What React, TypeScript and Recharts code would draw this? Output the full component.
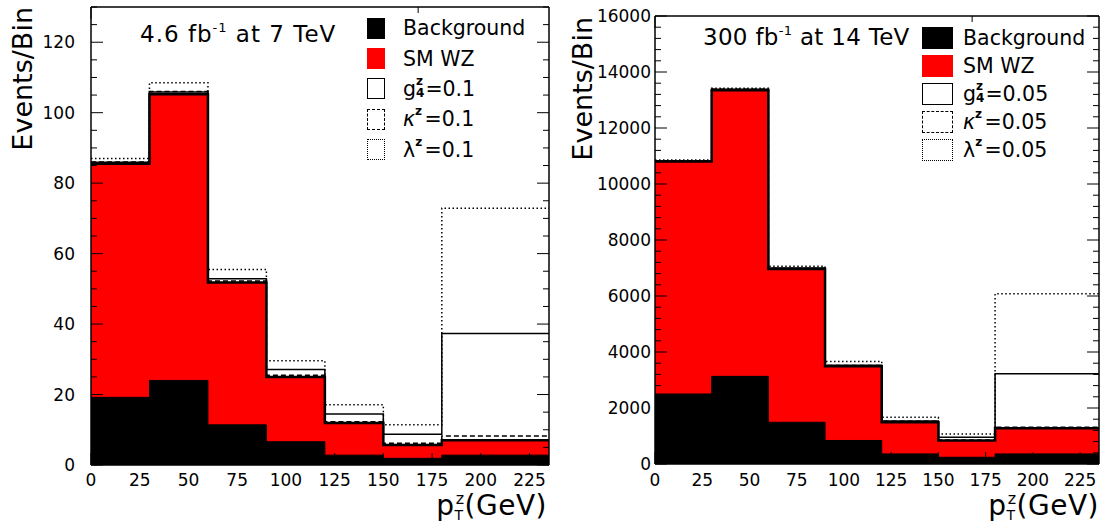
import React from "react";
import { ComposedChart, Area, Line, XAxis, YAxis } from "recharts";

// bin edges in pT^Z (GeV); the last bin runs to the frame edge
const binEdges = [0, 30, 60, 90, 120, 150, 180, 235];

// 4.6 fb-1 at 7 TeV (stacked totals per bin)
const bg7 = [19.2, 24.0, 11.4, 6.6, 2.8, 1.9, 2.8];
const smwz7 = [85.5, 105.2, 51.8, 25.0, 11.9, 5.7, 7.0];
const g4z7 = [85.9, 105.9, 52.9, 27.1, 14.5, 8.7, 37.3];
const kappaz7 = [86.0, 106.0, 52.2, 25.5, 12.3, 6.2, 8.2];
const lambdaz7 = [87.0, 108.5, 55.5, 29.6, 17.1, 11.4, 72.9];

// 300 fb-1 at 14 TeV
const bg14 = [2500, 3130, 1490, 840, 360, 240, 360];
const smwz14 = [10800, 13350, 6960, 3490, 1490, 835, 1275];
const g4z14 = [10820, 13380, 7000, 3530, 1540, 955, 3220];
const kappaz14 = [10830, 13380, 6990, 3520, 1530, 860, 1310];
const lambdaz14 = [10860, 13420, 7060, 3660, 1670, 1070, 6080];

// tick labels
const xLabels = [0, 25, 50, 75, 100, 125, 150, 175, 200, 225];
const yLabels7 = [0, 20, 40, 60, 80, 100, 120];
const yLabels14 = [0, 2000, 4000, 6000, 8000, 10000, 12000, 14000, 16000];

const FONT = "'DejaVu Sans', sans-serif";

const range = (from: number, to: number, step: number) => {
  const out: number[] = [];
  for (let v = from; v <= to + 1e-9; v += step) out.push(v);
  return out;
};

const buildRows = (bg: number[], sm: number[], g4: number[], ka: number[], la: number[]) =>
  binEdges.map((x, i) => {
    const k = Math.min(i, bg.length - 1);
    return { x, bg: bg[k], sm: sm[k], g4: g4[k], kappa: ka[k], lambda: la[k] };
  });

// ROOT style ticks: drawn inside the frame, labels outside
const makeTick =
  (side: "bottom" | "top" | "left" | "right", labels: number[], labelOffset: number) =>
  (p: any) => {
    const { x, y } = p;
    const v = p.payload.value as number;
    const isMajor = labels.includes(v);
    const len = isMajor ? 12 : 6;
    let line;
    let label = null;
    if (side === "bottom") {
      line = <line x1={x} y1={y} x2={x} y2={y - len} stroke="#000" strokeWidth={1} />;
      if (isMajor)
        label = (
          <text x={x} y={y + labelOffset} textAnchor="middle" fontSize={17} fontFamily={FONT} fill="#000">
            {v}
          </text>
        );
    } else if (side === "top") {
      line = <line x1={x} y1={y} x2={x} y2={y + len} stroke="#000" strokeWidth={1} />;
    } else if (side === "left") {
      line = <line x1={x} y1={y} x2={x + len} y2={y} stroke="#000" strokeWidth={1} />;
      if (isMajor)
        label = (
          <text x={x - labelOffset} y={y + 6} textAnchor="end" fontSize={17} fontFamily={FONT} fill="#000">
            {v}
          </text>
        );
    } else {
      line = <line x1={x} y1={y} x2={x - len} y2={y} stroke="#000" strokeWidth={1} />;
    }
    return (
      <g>
        {line}
        {label}
      </g>
    );
  };

const Swatch = ({ kind, w, h }: { kind: string; w: number; h: number }) => {
  const common = { width: w, height: h, display: "inline-block", boxSizing: "border-box" as const, flex: "none" };
  if (kind === "bg") return <span style={{ ...common, background: "#000" }} />;
  if (kind === "sm") return <span style={{ ...common, background: "#ff0000" }} />;
  if (kind === "g4") return <span style={{ ...common, border: "1.5px solid #000", background: "#fff" }} />;
  if (kind === "kappa") return <span style={{ ...common, border: "1.5px dashed #000", background: "#fff" }} />;
  return <span style={{ ...common, border: "1.5px dotted #000", background: "#fff" }} />;
};

// symbol with superscript z and (optionally) subscript stacked under it
const Coupling = ({ sym, sub, val, italic }: { sym: string; sub?: string; val: string; italic?: boolean }) => (
  <span style={{ display: "inline-flex", alignItems: "center", lineHeight: "24px" }}>
    <span style={{ fontStyle: italic ? "italic" : "normal" }}>{sym}</span>
    <span
      style={{
        display: "inline-flex",
        flexDirection: "column",
        fontSize: 12,
        lineHeight: "12px",
        marginRight: 1,
        fontWeight: 600,
        position: "relative",
        top: -2,
      }}
    >
      <span>z</span>
      <span style={{ visibility: sub ? "visible" : "hidden" }}>{sub || "0"}</span>
    </span>
    <span>={val}</span>
  </span>
);

const LegendBox = ({
  val, sw, sh, gap, rowH, left, top,
}: { val: string; sw: number; sh: number; gap: number; rowH: number; left: number; top: number }) => {
  const rows = [
    { kind: "bg", text: <span>Background</span> },
    { kind: "sm", text: <span>SM WZ</span> },
    { kind: "g4", text: <Coupling sym="g" sub="4" val={val} /> },
    { kind: "kappa", text: <Coupling sym="κ" val={val} italic /> },
    { kind: "lambda", text: <Coupling sym="λ" val={val} /> },
  ];
  return (
    <div style={{ position: "absolute", left, top, fontFamily: FONT, fontSize: 20.5, color: "#000" }}>
      {rows.map((r) => (
        <div key={r.kind} style={{ display: "flex", alignItems: "center", height: rowH }}>
          <Swatch kind={r.kind} w={sw} h={sh} />
          <span style={{ marginLeft: gap, whiteSpace: "nowrap" }}>{r.text}</span>
        </div>
      ))}
    </div>
  );
};

type PanelProps = {
  rows: any[];
  width: number;
  yMax: number;
  yStep: number;
  yLabels: number[];
  margin: { top: number; right: number; bottom: number; left: number };
  yLabelOffset: number;
  xLabelOffset: number;
};

const Panel = ({ rows, width, yMax, yStep, yLabels, margin, yLabelOffset, xLabelOffset }: PanelProps) => {
  const xTicks = range(0, 230, 5);
  const yTicks = range(0, yMax, yStep);
  return (
    <ComposedChart width={width} height={525} data={rows} margin={margin}>
      <XAxis
        dataKey="x"
        type="number"
        domain={[0, 235]}
        ticks={xTicks}
        interval={0}
        allowDataOverflow
        height={30}
        tickSize={0}
        tickMargin={0}
        tickLine={false}
        axisLine={{ stroke: "#000", strokeWidth: 1.5 }}
        tick={makeTick("bottom", xLabels, xLabelOffset)}
      />
      <XAxis
        xAxisId="top"
        orientation="top"
        type="number"
        domain={[0, 235]}
        ticks={xTicks}
        interval={0}
        allowDataOverflow
        height={1}
        tickSize={0}
        tickMargin={0}
        tickLine={false}
        axisLine={{ stroke: "#000", strokeWidth: 1.5 }}
        tick={makeTick("top", xLabels, 0)}
      />
      <YAxis
        type="number"
        domain={[0, yMax]}
        ticks={yTicks}
        interval={0}
        allowDataOverflow
        width={60}
        tickSize={0}
        tickMargin={0}
        tickLine={false}
        axisLine={{ stroke: "#000", strokeWidth: 1.5 }}
        tick={makeTick("left", yLabels, yLabelOffset)}
      />
      <YAxis
        yAxisId="right"
        orientation="right"
        type="number"
        domain={[0, yMax]}
        ticks={yTicks}
        interval={0}
        allowDataOverflow
        width={1}
        tickSize={0}
        tickMargin={0}
        tickLine={false}
        axisLine={{ stroke: "#000", strokeWidth: 1.5 }}
        tick={makeTick("right", yLabels, 0)}
      />
      <Area
        dataKey="sm"
        type="stepAfter"
        fill="#ff0000"
        fillOpacity={1}
        stroke="#000"
        strokeWidth={2.5}
        isAnimationActive={false}
        dot={false}
        activeDot={false}
      />
      <Area
        dataKey="bg"
        type="stepAfter"
        fill="#000"
        fillOpacity={1}
        stroke="#000"
        strokeWidth={1}
        isAnimationActive={false}
        dot={false}
        activeDot={false}
      />
      <Line dataKey="kappa" type="stepAfter" stroke="#000" strokeWidth={1.5} strokeDasharray="5 3" dot={false} activeDot={false} isAnimationActive={false} />
      <Line dataKey="g4" type="stepAfter" stroke="#000" strokeWidth={1.5} dot={false} activeDot={false} isAnimationActive={false} />
      <Line dataKey="lambda" type="stepAfter" stroke="#000" strokeWidth={1.5} strokeDasharray="1.5 2.5" dot={false} activeDot={false} isAnimationActive={false} />
    </ComposedChart>
  );
};

const Title = ({ x, y, lumi, energy, spacing }: { x: number; y: number; lumi: string; energy: string; spacing: number }) => (
  <text x={x} y={y} fontSize={23} letterSpacing={spacing} fontFamily={FONT} fill="#000" style={{ whiteSpace: "pre" }}>
    <tspan>{lumi} fb</tspan>
    <tspan fontSize={13} dy={-10}>-1</tspan>
    <tspan dy={10}>{` at ${energy} TeV`}</tspan>
  </text>
);

const YTitle = ({ x, y }: { x: number; y: number }) => (
  <text transform={`translate(${x},${y}) rotate(-90)`} textAnchor="end" fontSize={27} fontFamily={FONT} fill="#000">
    Events/Bin
  </text>
);

const XTitle = ({ x, y }: { x: number; y: number }) => (
  <text x={x} y={y} textAnchor="end" fontSize={28} letterSpacing={0.5} fontFamily={FONT} fill="#000">
    p
    <tspan fontSize={14} dy={5}>T</tspan>
    <tspan fontSize={16} dx={-8} dy={-16}>z</tspan>
    <tspan dy={11}>(GeV)</tspan>
  </text>
);

export default function App() {
  const rows7 = buildRows(bg7, smwz7, g4z7, kappaz7, lambdaz7);
  const rows14 = buildRows(bg14, smwz14, g4z14, kappaz14, lambdaz14);
  return (
    <div style={{ position: "absolute", left: 0, top: 0, width: 1105, height: 525, background: "#fff", overflow: "hidden" }}>
      <div style={{ position: "absolute", left: 0, top: 0 }}>
        <Panel
          rows={rows7}
          width={560}
          yMax={130}
          yStep={5}
          yLabels={yLabels7}
          margin={{ top: 6, right: 10, bottom: 30, left: 31 }}
          yLabelOffset={16}
          xLabelOffset={21}
        />
      </div>
      <div style={{ position: "absolute", left: 560, top: 0 }}>
        <Panel
          rows={rows14}
          width={545}
          yMax={16000}
          yStep={400}
          yLabels={yLabels14}
          margin={{ top: 15, right: 5, bottom: 31, left: 35 }}
          yLabelOffset={4}
          xLabelOffset={22}
        />
      </div>
      <LegendBox val="0.1" sw={18} sh={21} gap={18} rowH={30.4} left={367} top={13} />
      <LegendBox val="0.05" sw={31} sh={22} gap={10} rowH={28} left={922} top={24} />
      <svg width={1105} height={525} style={{ position: "absolute", left: 0, top: 0, pointerEvents: "none" }}>
        <Title x={140} y={42} lumi="4.6" energy="7" spacing={1} />
        <Title x={703} y={45} lumi="300" energy="14" spacing={0.3} />
        <YTitle x={32} y={7} />
        <YTitle x={592} y={17} />
        <XTitle x={547} y={515} />
        <XTitle x={1099} y={515} />
      </svg>
    </div>
  );
}
